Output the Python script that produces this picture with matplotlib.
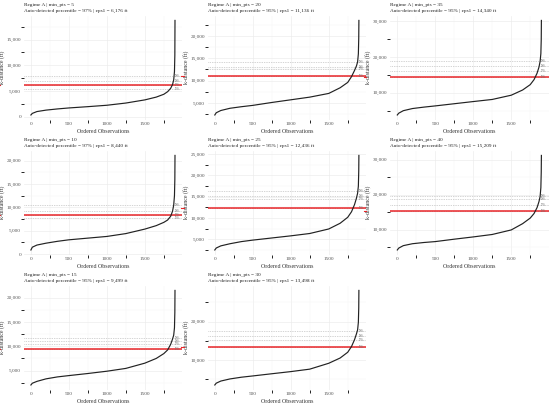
import matplotlib
matplotlib.use("Agg")
import matplotlib.pyplot as plt
from matplotlib.ticker import MultipleLocator, AutoMinorLocator, FuncFormatter

ranks = [1, 20, 80, 200, 350, 500, 750, 1000, 1250, 1500, 1650, 1750, 1800,
         1840, 1865, 1880, 1890, 1895, 1897]

# k-distance (ft) per min_pts, same ranks as above
kdist_5 = [390, 700, 1050, 1330, 1560, 1750, 2000, 2270, 2700, 3310, 3850, 4400,
           4900, 5550, 6300, 7200, 8800, 12000, 18700]
kdist_10 = [900, 1500, 1950, 2350, 2750, 3070, 3430, 3790, 4400, 5360, 6100, 6800,
            7300, 8100, 9200, 10500, 12500, 16000, 21100]
kdist_15 = [2040, 2400, 2780, 3300, 3700, 3970, 4400, 4870, 5450, 6530, 7500, 8500,
            9250, 10400, 11500, 12300, 13800, 17000, 21500]
kdist_20 = [2300, 2800, 3300, 3800, 4150, 4450, 5100, 5700, 6300, 7130, 8400, 9600,
            10900, 12300, 13300, 14200, 16000, 19500, 23500]
kdist_25 = [2540, 3000, 3500, 4000, 4500, 4850, 5350, 5850, 6400, 7460, 8800, 10200,
            11500, 13200, 14700, 15850, 17500, 21000, 24700]
kdist_30 = [3480, 3950, 4500, 5050, 5500, 5830, 6400, 6960, 7600, 9130, 10500, 12000,
            13500, 15300, 16800, 17830, 19800, 23500, 28100]
kdist_35 = [3800, 4300, 5000, 5600, 6000, 6340, 6950, 7560, 8150, 9340, 10800, 12300,
            13700, 15500, 17200, 18800, 21000, 25000, 30300]
kdist_40 = [4160, 4700, 5400, 5950, 6300, 6560, 7250, 7900, 8600, 9900, 11700, 13300,
            14600, 16300, 18000, 19470, 22000, 26500, 31250]

min_pts = [5, 10, 15, 20, 25, 30, 35, 40]
curves = [kdist_5, kdist_10, kdist_15, kdist_20, kdist_25, kdist_30, kdist_35, kdist_40]

pct_labels = ["95%", "97%", "98%", "99%"]
pct_values = [
    [5390, 6176, 6880, 7990],
    [7710, 8440, 9290, 10430],
    [9499, 10540, 11020, 11780],
    [11136, 12550, 13070, 14260],
    [12436, 14470, 15080, 16380],
    [13498, 15220, 16260, 17570],
    [14340, 16200, 17510, 18830],
    [15209, 16990, 18700, 19660],
]
chosen_pct = [97, 97, 95, 95, 95, 95, 95, 95]
eps1 = [6176, 8440, 9499, 11136, 12436, 13498, 14340, 15209]
y_step = [5000, 5000, 5000, 5000, 5000, 10000, 10000, 10000]

plt.rcParams['font.family'] = ['Liberation Serif', 'DejaVu Serif']

W, H = 550, 405
fig = plt.figure(figsize=(W / 100, H / 100), dpi=100)

col_left = [23.7, 207.6, 390.1]
row_bottom = [119.7, 254.7, 389.7]
ax_w, ax_h = 158.5, 104

comma = FuncFormatter(lambda v, p: f"{int(v):,}")

for i, mp in enumerate(min_pts):
    col, row = i // 3, i % 3
    ax = fig.add_axes([col_left[col] / W, 1 - row_bottom[row] / H, ax_w / W, ax_h / H])
    y = curves[i]

    xr = ranks[-1] - ranks[0]
    ax.set_xlim(ranks[0] - 0.05 * xr, ranks[-1] + 0.05 * xr)
    yr = max(y) - min(y)
    ax.set_ylim(min(y) - 0.05 * yr, max(y) + 0.05 * yr)

    for lab, val in zip(pct_labels, pct_values[i]):
        ax.axhline(val, color='#aaaaaa', lw=0.5, ls=(0, (1, 1.5)), zorder=1)
        ax.text(0.985, val, lab, transform=ax.get_yaxis_transform(), ha='right',
                va='center', fontsize=1.9, color='#666666', zorder=4)

    ax.axhline(eps1[i], color='#e8262a', lw=1.1, zorder=2)
    ax.plot([-0.165, -0.15], [eps1[i], eps1[i]], transform=ax.get_yaxis_transform(),
            color='#e8262a', lw=0.8, clip_on=False)

    ax.plot(ranks, y, color='#222222', lw=0.85, zorder=3)

    ax.xaxis.set_major_locator(MultipleLocator(500))
    ax.yaxis.set_major_locator(MultipleLocator(y_step[i]))
    ax.xaxis.set_minor_locator(AutoMinorLocator(2))
    ax.yaxis.set_minor_locator(AutoMinorLocator(2))
    ax.yaxis.set_major_formatter(comma)
    ax.grid(which='major', color='#ebebeb', lw=0.45)
    ax.grid(which='minor', color='#f3f3f3', lw=0.3)
    ax.set_axisbelow(True)
    for s in ax.spines.values():
        s.set_visible(False)
    ax.tick_params(length=0, labelsize=3.8, labelcolor='#555555', pad=2)

    ax.set_xlabel("Ordered Observations", fontsize=4.2, color='#333333', labelpad=1.2)
    ax.set_ylabel("k-distance (ft)", fontsize=4.2, color='#333333', labelpad=1.2)
    ax.set_title(f"Regime A | min_pts = {mp}\n"
                 f"Auto-detected percentile = {chosen_pct[i]}% | eps1 = {eps1[i]:,} ft",
                 loc='left', fontsize=3.8, color='#222222', pad=2.5, linespacing=1.6)

fig.savefig("out.png", dpi=100)
